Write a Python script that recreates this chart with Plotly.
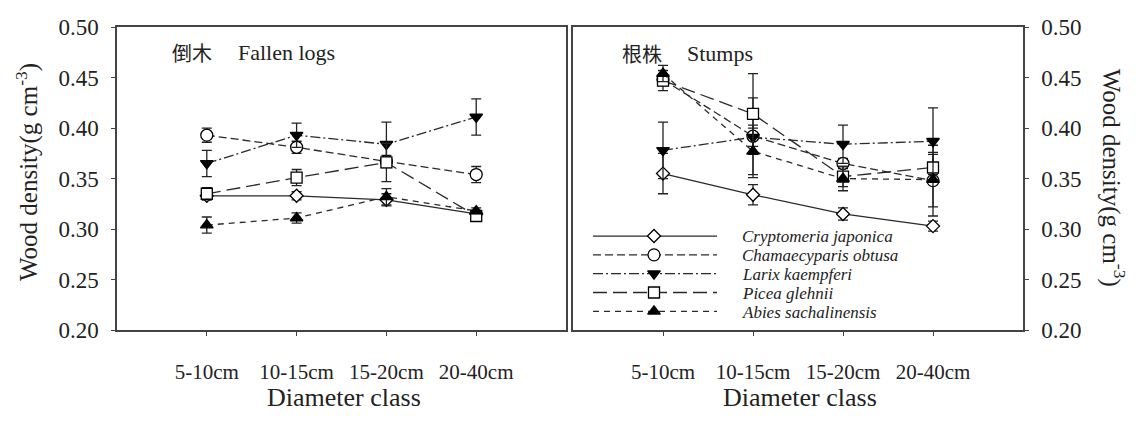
import plotly.graph_objects as go

W, H = 1136, 426

categories = ["5-10cm", "10-15cm", "15-20cm", "20-40cm"]
species = ["Cryptomeria japonica", "Chamaecyparis obtusa", "Larix kaempferi",
           "Picea glehnii", "Abies sachalinensis"]

# Fallen logs (mean, error)
crypto_fl = [0.333, 0.333, 0.329, 0.315]
crypto_fl_err = [0.004, 0.004, 0.006, 0.003]
chamae_fl = [0.393, 0.381, 0.367, 0.354]
chamae_fl_err = [0.007, 0.006, 0.006, 0.008]
larix_fl = [0.365, 0.393, 0.384, 0.411]
larix_fl_err = [0.013, 0.012, 0.022, 0.018]
picea_fl = [0.335, 0.351, 0.366, 0.313]
picea_fl_err = [0.006, 0.008, 0.019, 0.003]
abies_fl = [0.304, 0.311, 0.332, 0.318]
abies_fl_err = [0.008, 0.005, 0.008, 0.003]

# Stumps (mean, error)
crypto_st = [0.355, 0.334, 0.315, 0.303]
crypto_st_err = [0.020, 0.010, 0.006, 0.005]
chamae_st = [0.448, 0.392, 0.365, 0.348]
chamae_st_err = [0.006, 0.038, 0.005, 0.035]
larix_st = [0.378, 0.391, 0.384, 0.387]
larix_st_err = [0.028, 0.009, 0.019, 0.033]
picea_st = [0.447, 0.414, 0.352, 0.361]
picea_st_err = [0.010, 0.040, 0.010, 0.013]
abies_st = [0.454, 0.377, 0.350, 0.349]
abies_st_err = [0.008, 0.026, 0.012, 0.027]

y_ticks = [0.20, 0.25, 0.30, 0.35, 0.40, 0.45, 0.50]

fallen = [(crypto_fl, crypto_fl_err), (chamae_fl, chamae_fl_err), (larix_fl, larix_fl_err),
          (picea_fl, picea_fl_err), (abies_fl, abies_fl_err)]
stumps = [(crypto_st, crypto_st_err), (chamae_st, chamae_st_err), (larix_st, larix_st_err),
          (picea_st, picea_st_err), (abies_st, abies_st_err)]

LC = "#2a2a2a"
styles = [
    dict(dash="solid", symbol="diamond", size=10, fill="white"),
    dict(dash="8px,4px", symbol="circle", size=12, fill="white"),
    dict(dash="10px,3px,2px,3px", symbol="triangle-down", size=11, fill="black"),
    dict(dash="14px,6px", symbol="square", size=11, fill="white"),
    dict(dash="6px,5px", symbol="triangle-up", size=11, fill="black"),
]

def px(x):
    return x / W

def py(y):
    return 1 - y / H

fig = go.Figure()

for panel, (xa, ya) in ((fallen, ("x", "y")), (stumps, ("x2", "y2"))):
    for name, (vals, errs), st in zip(species, panel, styles):
        fig.add_trace(go.Scatter(
            x=categories, y=vals, xaxis=xa, yaxis=ya, name=name, showlegend=False,
            mode="lines+markers",
            line=dict(color=LC, width=1.3, dash=st["dash"]),
            marker=dict(symbol=st["symbol"], size=st["size"], color=st["fill"],
                        line=dict(color="black", width=1.3)),
            error_y=dict(type="data", array=errs, visible=True, color="#222",
                         thickness=1.3, width=5),
        ))

# hand-made legend (line with marker in the middle) on a pixel overlay axis
leg_rows = [238, 258, 278, 298, 318]
for name, st, ry in zip(species, styles, leg_rows):
    fig.add_trace(go.Scatter(
        x=[593, 717], y=[ry, ry], xaxis="x3", yaxis="y3", mode="lines",
        line=dict(color=LC, width=1.3, dash=st["dash"]), showlegend=False, hoverinfo="skip"))
    fig.add_trace(go.Scatter(
        x=[654], y=[ry], xaxis="x3", yaxis="y3", mode="markers",
        marker=dict(symbol=st["symbol"], size=st["size"], color=st["fill"],
                    line=dict(color="black", width=1.3)),
        showlegend=False, hoverinfo="skip"))

axis_common = dict(
    showline=True, mirror=True, linecolor="#444", linewidth=1.5,
    showgrid=False, zeroline=False, ticks="outside", ticklen=4,
    tickcolor="#444", tickwidth=1.2,
)
xfont = dict(family="Liberation Serif", size=21, color="#222")
yfont = dict(family="Liberation Serif", size=23, color="#222")

fig.update_layout(
    width=W, height=H, margin=dict(l=0, r=0, t=0, b=0),
    paper_bgcolor="white", plot_bgcolor="rgba(0,0,0,0)",
    showlegend=False,
    xaxis=dict(domain=[px(117), px(566)], anchor="y", type="category",
               range=[-1, 4], tickfont=xfont, ticklabelstandoff=18, **axis_common),
    yaxis=dict(domain=[py(338), py(16)], anchor="x", range=[0.2, 0.5],
               tickvals=y_ticks, tickformat=".2f", tickfont=yfont,
               ticklabelstandoff=8, **axis_common),
    xaxis2=dict(domain=[px(573), px(1023)], anchor="y2", type="category",
                range=[-1, 4], tickfont=xfont, ticklabelstandoff=18, **axis_common),
    yaxis2=dict(domain=[py(338), py(16)], anchor="x2", side="right", range=[0.2, 0.5],
                tickvals=y_ticks, tickformat=".2f", tickfont=yfont,
                ticklabelstandoff=8, **axis_common),
    xaxis3=dict(domain=[0, 1], range=[0, W], visible=False, anchor="y3", fixedrange=True),
    yaxis3=dict(domain=[0, 1], range=[H, 0], visible=False, anchor="x3", fixedrange=True),
)

serif = "Liberation Serif"
cjk = "Noto Sans CJK SC"
ann = [
    dict(text="倒木", x=px(170), y=py(43), xanchor="left", font=dict(family=cjk, size=20)),
    dict(text="Fallen logs", x=px(236), y=py(43), xanchor="left", font=dict(family=serif, size=22)),
    dict(text="根株", x=px(620), y=py(44), xanchor="left", font=dict(family=cjk, size=20)),
    dict(text="Stumps", x=px(685), y=py(44), xanchor="left", font=dict(family=serif, size=22)),
    dict(text="Diameter class", x=px(344), y=py(410), xanchor="center", font=dict(family=serif, size=26)),
    dict(text="Diameter class", x=px(800), y=py(410), xanchor="center", font=dict(family=serif, size=26)),
    dict(text="Wood density(g cm<sup>-3</sup>)", x=px(27), y=py(170), textangle=-90,
         xanchor="center", font=dict(family=serif, size=25)),
    dict(text="Wood density(g cm<sup>-3</sup>)", x=px(1113), y=py(176), textangle=90,
         xanchor="center", font=dict(family=serif, size=25)),
]
for nm, ry in zip(species, leg_rows):
    ann.append(dict(text="<i>%s</i>" % nm, x=px(740), y=py(ry + 1), xanchor="left",
                    font=dict(family=serif, size=17)))
for a in ann:
    a.setdefault("yanchor", "middle")
    a["xref"] = "paper"
    a["yref"] = "paper"
    a["showarrow"] = False
    a["font"].setdefault("color", "#222")
fig.update_layout(annotations=ann)

fig.write_html("out.html")
